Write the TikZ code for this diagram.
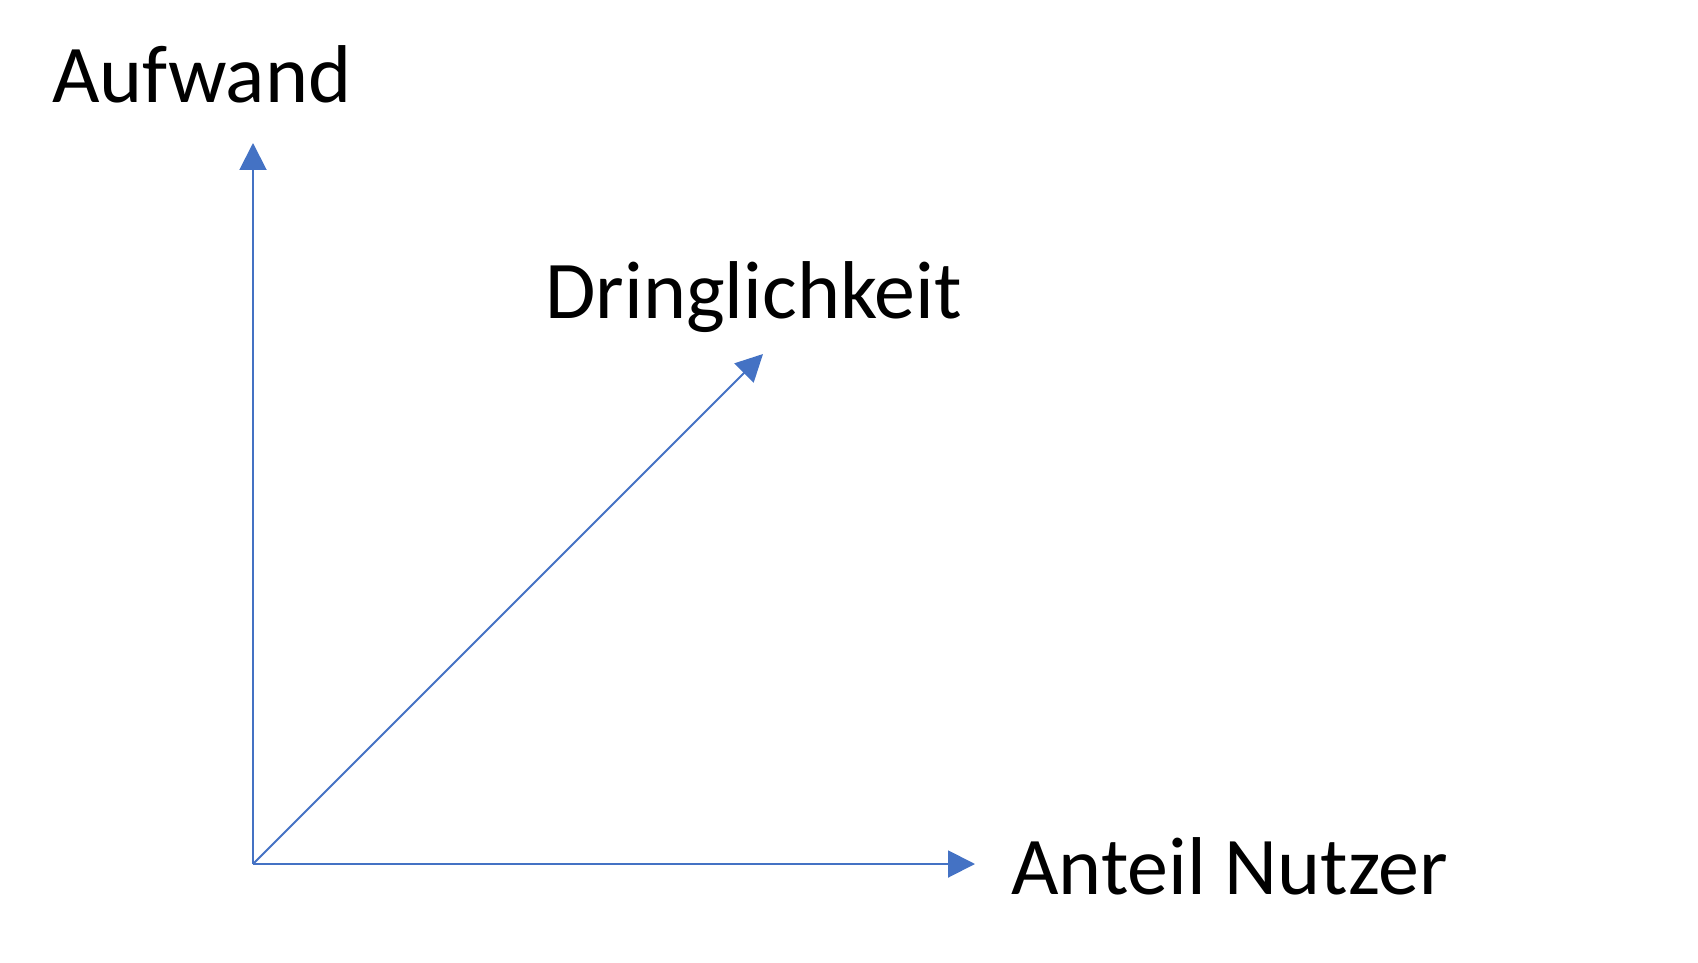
\documentclass[tikz,border=0pt]{standalone}
\usepackage{fontspec}
\setmainfont{Carlito}
\usetikzlibrary{arrows.meta}
\definecolor{axisblue}{HTML}{4472C4}
\tikzset{
  axis/.style={draw=axisblue, line width=1pt, -{Triangle[length=13.5pt,width=13.5pt]}},
  lbl/.style={anchor=base west, inner sep=0pt, font=\fontsize{41}{49}\selectfont}
}
\begin{document}
\begin{tikzpicture}[x=0.5pt,y=-0.5pt]
\useasboundingbox (0,0) rectangle (1698,963);
\coordinate (O) at (253,864);
\coordinate (Y) at (253,143);
\coordinate (X) at (975,864);
\coordinate (D) at (763,354);
\draw[axis] (O) -- (Y);
\draw[axis] (O) -- (X);
\draw[axis] (O) -- (D);
\node[lbl] (aufwand) at (52,103) {Aufwand};
\node[lbl] (dring) at (545,318) {Dringlichkeit};
\node[lbl] (anteil) at (1011,894) {Anteil Nutzer};
\end{tikzpicture}
\end{document}
